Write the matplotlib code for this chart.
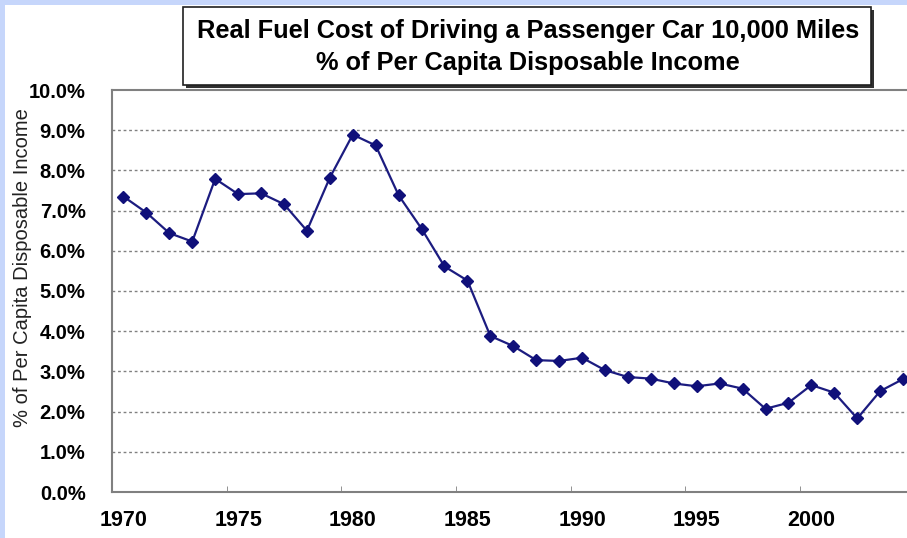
#!/usr/bin/env python
"""
Plots the real fuel cost of driving a passenger car 10,000 miles
as a share of per capita disposable income, 1970-2004.
"""

import matplotlib
matplotlib.use("Agg")
import matplotlib.pyplot as plt
from matplotlib.patches import Rectangle
from matplotlib.ticker import FixedLocator, FuncFormatter

# Data: fuel cost as % of per capita disposable income
YEARS = list(range(1970, 2005))
COST_PCT = [7.35, 6.95, 6.44, 6.23, 7.79, 7.41, 7.43, 7.16, 6.50, 7.82,
            8.89, 8.62, 7.38, 6.55, 5.61, 5.26, 3.88, 3.63, 3.28, 3.26,
            3.34, 3.03, 2.86, 2.82, 2.70, 2.63, 2.70, 2.57, 2.07, 2.22,
            2.66, 2.47, 1.83, 2.51, 2.81]
LABEL_YEARS = [1970, 1975, 1980, 1985, 1990, 1995, 2000]
TITLE = "Real Fuel Cost of Driving a Passenger Car 10,000 Miles\n% of Per Capita Disposable Income"
Y_LABEL = "% of Per Capita Disposable Income"

W, H = 907, 538
plt.rcParams['font.family'] = ['Liberation Sans', 'DejaVu Sans']

fig = plt.figure(figsize=(W / 100, H / 100), dpi=100)
fig.patch.set_facecolor("white")

# Pale blue border along top and left edges
border = "#c6d6fb"
fig.patches.append(Rectangle((0, 1 - 5 / H), 1, 5 / H, transform=fig.transFigure,
                             facecolor=border, edgecolor="none", zorder=0))
fig.patches.append(Rectangle((0, 0), 5 / W, 1, transform=fig.transFigure,
                             facecolor=border, edgecolor="none", zorder=0))

ax = fig.add_axes([112 / W, 1 - 492 / H, 1 - 112 / W, (492 - 90) / H])

ax.plot(YEARS, COST_PCT, color="#1c1c80", lw=1.6, marker="D", markersize=6,
        markerfacecolor="#10107a", markeredgecolor="#10107a", clip_on=False, zorder=3)

ax.set_xlim(1969.5, 2004.17)
ax.set_ylim(0, 10)

# Gridlines every 1%
for v in range(1, 10):
    ax.axhline(v, color="#808080", lw=1, ls=(0, (2, 2)), zorder=1)

ax.yaxis.set_major_locator(FixedLocator(range(0, 11)))
ax.yaxis.set_major_formatter(FuncFormatter(lambda v, p: "%.1f%%" % v))
ax.set_xticks(LABEL_YEARS)
ax.set_xticklabels([str(y) for y in LABEL_YEARS])
ax.xaxis.set_minor_locator(FixedLocator([y - 0.5 for y in LABEL_YEARS]))

ax.tick_params(axis="y", length=0, pad=19, labelsize=14.5)
ax.tick_params(axis="x", which="major", length=0, pad=13, labelsize=15.5)
ax.tick_params(axis="x", which="minor", length=4, direction="in", color="#808080")
for lab in ax.get_xticklabels() + ax.get_yticklabels():
    lab.set_fontweight("bold")

for side in ["left", "bottom", "top"]:
    ax.spines[side].set_color("#808080")
    ax.spines[side].set_linewidth(1.5)
ax.spines["right"].set_visible(False)

fig.text(23 / W, 1 - 268 / H, Y_LABEL, rotation=90, ha="center", va="center",
         fontsize=14.5, color="#222222")

# Title box with drop shadow
bx0, bx1, by0, by1 = 183, 871, 7, 85
fig.patches.append(Rectangle((bx0 / W + 3 / W, 1 - by1 / H - 3 / H), (bx1 - bx0) / W, (by1 - by0) / H,
                             transform=fig.transFigure, facecolor="#303030", edgecolor="none", zorder=4))
fig.patches.append(Rectangle((bx0 / W, 1 - by1 / H), (bx1 - bx0) / W, (by1 - by0) / H,
                             transform=fig.transFigure, facecolor="white", edgecolor="#202020",
                             lw=1.2, zorder=5))
fig.text((bx0 + bx1) / 2 / W + 1 / W, 1 - 47 / H, TITLE, ha="center", va="center",
         fontsize=18.3, fontweight="bold", linespacing=1.4, zorder=6)

fig.savefig("out.png", dpi=100)
